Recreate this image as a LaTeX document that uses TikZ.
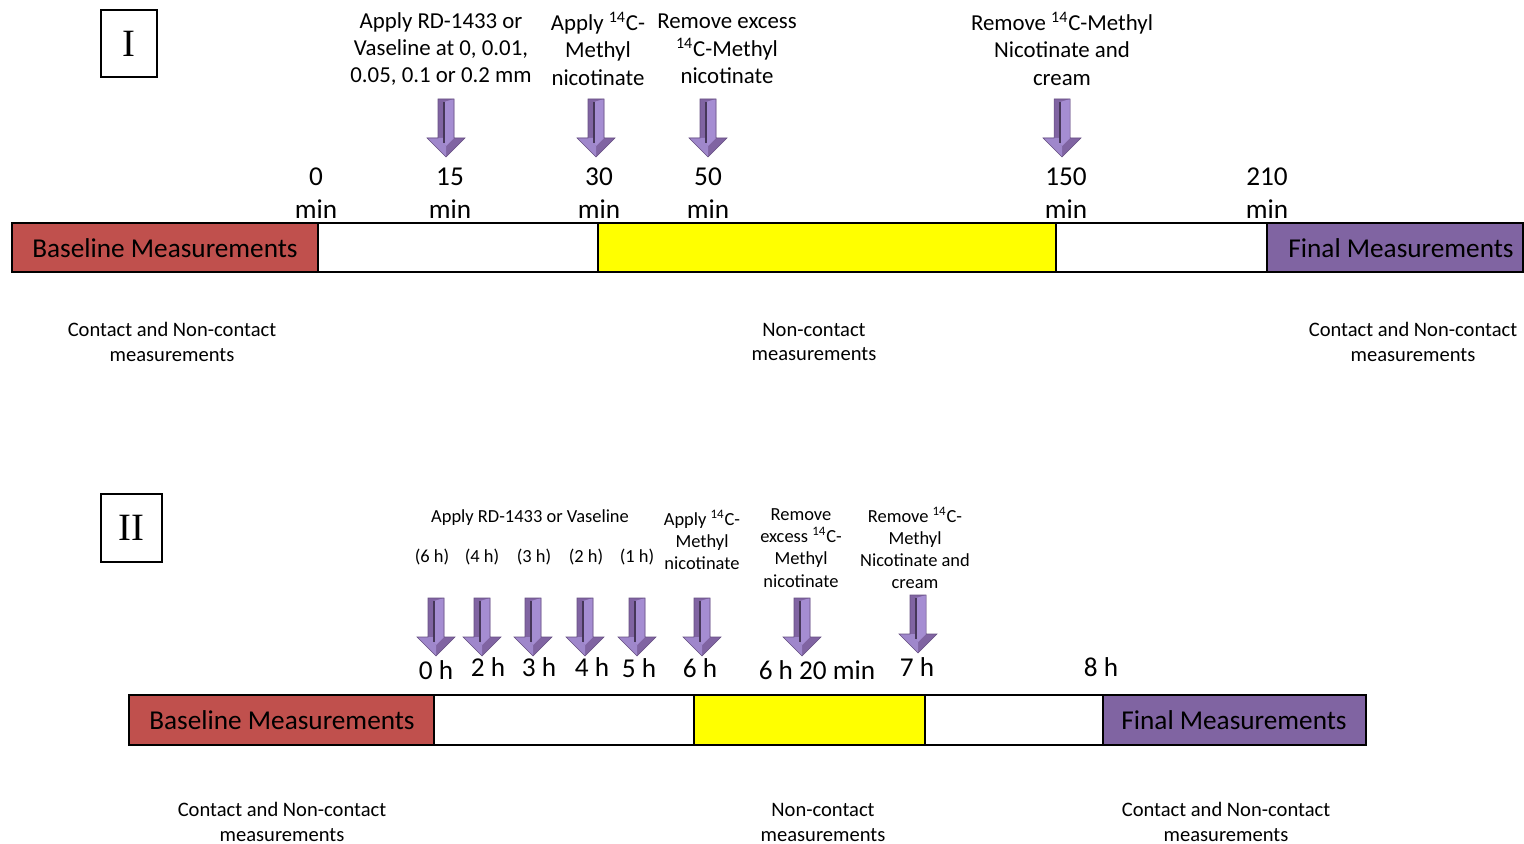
\documentclass[tikz,border=0pt]{standalone}
\usepackage{fontspec}
\setmainfont{Carlito}
\newfontfamily\romanfont{Liberation Serif}
\usepackage{tikz}
\usetikzlibrary{positioning, calc}
\usepackage{xcolor}
\definecolor{StudyRed}{HTML}{C0504D}
\definecolor{StudyPurple}{HTML}{8064A2}
\definecolor{StudyLight}{HTML}{A58DD2}
\definecolor{StudyYellow}{HTML}{FFFF00}
\definecolor{StudyBlack}{HTML}{000000}
\tikzset{
    % Text styles
    steplabel/.style={
        align=center,
        inner sep=0pt,
        font=\fontsize{13}{15.6}\selectfont
    },
    smalllabel/.style={
        align=center,
        inner sep=0pt,
        font=\fontsize{10.5}{12.6}\selectfont
    },
    timelabel/.style={
        align=center,
        inner sep=0pt,
        font=\fontsize{15.5}{18.8}\selectfont
    },
    notelabel/.style={
        align=center,
        inner sep=0pt,
        font=\fontsize{11.7}{14.2}\selectfont
    },
    phaselabel/.style={
        inner sep=0pt,
        font=\fontsize{15.5}{18}\selectfont
    },
    panellabel/.style={
        inner sep=0pt,
        font=\romanfont\fontsize{22}{24}\selectfont
    },
    % Bar and box styles
    barline/.style={
        draw=StudyBlack,
        line width=1.4pt
    },
    panelbox/.style={
        draw=StudyBlack,
        line width=1.1pt
    },
    % Block arrow (bevelled look)
    downarrow/.pic={
        \fill[StudyPurple]
            (-8,0) -- (8,0) -- (8,39) -- (19,39) -- (0,58) -- (-19,39) -- (-8,39) -- cycle;
        \fill[StudyLight] (-2,3) -- (8,0) -- (8,39) -- (0,47) -- (-2,44) -- cycle;
        \fill[StudyLight!85!StudyPurple] (-19,39) -- (-2,39) -- (-2,44) -- (0,47) -- (0,58) -- cycle;
        \draw[StudyPurple!55!black, line width=0.7pt] (-2,3) -- (-2,44);
        \draw[StudyPurple!80!black, line width=0.3pt]
            (-8,0) -- (8,0) -- (8,39) -- (19,39) -- (0,58) -- (-19,39) -- (-8,39) -- cycle;
    }
}

\begin{document}
\begin{tikzpicture}[x=0.02cm, y=-0.02cm]
    \useasboundingbox (0,0) rectangle (1524,844);

    % ---------- Panel I ----------
    \draw[panelbox] (101,10) rectangle (157,77);
    \node[panellabel] (panelI) at (129,44) {I};

    % Step labels
    \node[steplabel] (applyRD) at (441,49) {Apply RD-1433 or\\Vaseline at 0, 0.01,\\0.05, 0.1 or 0.2 mm};
    \node[steplabel] (applyMN) at (598,49) {Apply \textsuperscript{14}C-\\Methyl\\nicotinate};
    \node[steplabel] (excessMN) at (727,49) {Remove excess\\\textsuperscript{14}C-Methyl\\nicotinate};
    \node[steplabel] (removeMN) at (1062,49) {Remove \textsuperscript{14}C-Methyl\\Nicotinate and\\cream};

    % Arrows
    \pic at (446,99) {downarrow};
    \pic at (596,99) {downarrow};
    \pic at (708,99) {downarrow};
    \pic at (1062,99) {downarrow};

    % Times
    \node[timelabel] (tZero) at (316,193) {0\\min};
    \node[timelabel] (tFifteen) at (450,193) {15\\min};
    \node[timelabel] (tThirty) at (599,193) {30\\min};
    \node[timelabel] (tFifty) at (708,193) {50\\min};
    \node[timelabel] (tOneFifty) at (1066,193) {150\\min};
    \node[timelabel] (tTwoTen) at (1267,193) {210\\min};

    % Bar
    \fill[StudyRed] (12,223) rectangle (318,272);
    \fill[StudyYellow] (598,223) rectangle (1056,272);
    \fill[StudyPurple] (1267,223) rectangle (1523,272);
    \draw[barline] (12,223) rectangle (1523,272);
    \draw[barline] (318,223) -- (318,272);
    \draw[barline] (598,223) -- (598,272);
    \draw[barline] (1056,223) -- (1056,272);
    \draw[barline] (1267,223) -- (1267,272);
    \node[phaselabel] (baseI) at (165,248) {Baseline Measurements};
    \node[phaselabel] (finalI) at (1401,248) {Final Measurements};

    % Notes
    \node[notelabel] (noteBaseI) at (172,342) {Contact and Non-contact\\measurements};
    \node[notelabel] (noteMidI) at (814,342) {Non-contact\\measurements};
    \node[notelabel] (noteFinalI) at (1413,342) {Contact and Non-contact\\measurements};

    % ---------- Panel II ----------
    \draw[panelbox] (101,494) rectangle (162,562);
    \node[panellabel] (panelII) at (131,528) {II};

    % Step labels
    \node[smalllabel] (applyRDII) at (530,518) {Apply RD-1433 or Vaseline};
    \node[smalllabel] (pre6) at (432,557) {(6 h)};
    \node[smalllabel] (pre4) at (482,557) {(4 h)};
    \node[smalllabel] (pre3) at (534,557) {(3 h)};
    \node[smalllabel] (pre2) at (586,557) {(2 h)};
    \node[smalllabel] (pre1) at (637,557) {(1 h)};
    \node[smalllabel] (applyMNII) at (702,540) {Apply \textsuperscript{14}C-\\Methyl\\nicotinate};
    \node[smalllabel] (excessMNII) at (801,548) {Remove\\excess \textsuperscript{14}C-\\Methyl\\nicotinate};
    \node[smalllabel] (removeMNII) at (915,548) {Remove \textsuperscript{14}C-\\Methyl\\Nicotinate and\\cream};

    % Arrows
    \foreach \ax in {436,482,533,585,637,702,802}
        \pic at (\ax,598) {downarrow};
    \pic at (918,595) {downarrow};

    % Times
    \node[timelabel] (hZero) at (436,670) {0 h};
    \node[timelabel] (hTwo) at (488,667) {2 h};
    \node[timelabel] (hThree) at (539,667) {3 h};
    \node[timelabel] (hFour) at (592,667) {4 h};
    \node[timelabel] (hFive) at (639,668) {5 h};
    \node[timelabel] (hSix) at (700,668) {6 h};
    \node[timelabel] (hSixTwenty) at (817,670) {6 h 20 min};
    \node[timelabel] (hSeven) at (917,667) {7 h};
    \node[timelabel] (hEight) at (1101,667) {8 h};

    % Bar
    \fill[StudyRed] (129,695) rectangle (434,745);
    \fill[StudyYellow] (694,695) rectangle (925,745);
    \fill[StudyPurple] (1103,695) rectangle (1366,745);
    \draw[barline] (129,695) rectangle (1366,745);
    \draw[barline] (434,695) -- (434,745);
    \draw[barline] (694,695) -- (694,745);
    \draw[barline] (925,695) -- (925,745);
    \draw[barline] (1103,695) -- (1103,745);
    \node[phaselabel] (baseII) at (282,720) {Baseline Measurements};
    \node[phaselabel] (finalII) at (1234,720) {Final Measurements};

    % Notes
    \node[notelabel] (noteBaseII) at (282,822) {Contact and Non-contact\\measurements};
    \node[notelabel] (noteMidII) at (823,822) {Non-contact\\measurements};
    \node[notelabel] (noteFinalII) at (1226,822) {Contact and Non-contact\\measurements};
\end{tikzpicture}
\end{document}
